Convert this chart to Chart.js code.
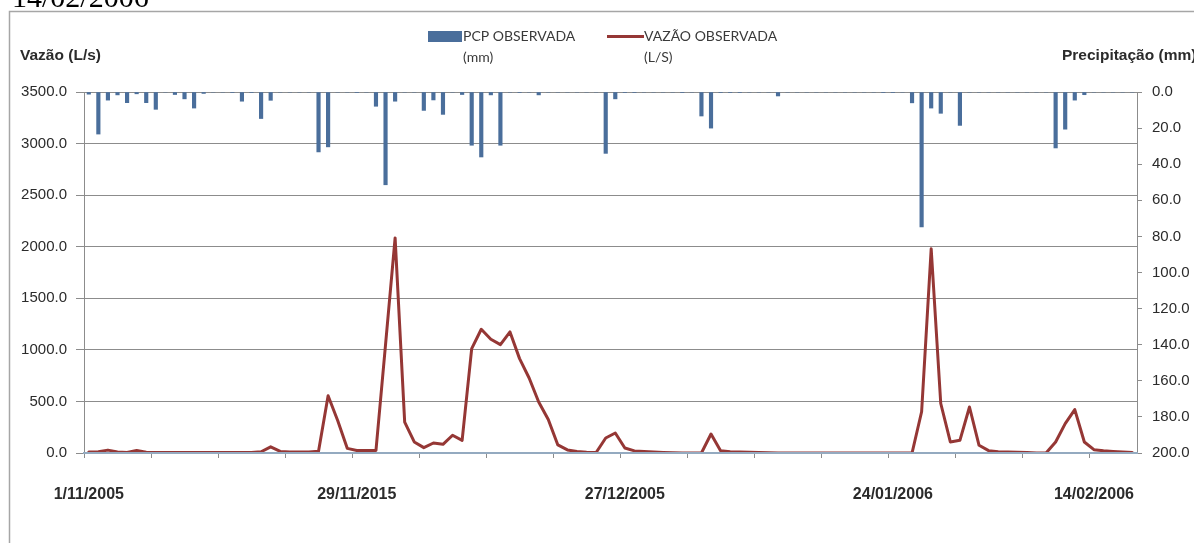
<!DOCTYPE html>
<html>
<head>
<meta charset="utf-8">
<script src="https://cdn.jsdelivr.net/npm/chart.js@4.4.1/dist/chart.umd.min.js"></script>
<style>
  html, body { margin: 0; padding: 0; background: #fff; }
  #wrap { position: relative; width: 1194px; height: 543px; overflow: hidden; background: #fff; }
  canvas { display: block; }
</style>
</head>
<body>
<div id="wrap"><canvas id="chart" width="1194" height="543"></canvas></div>
<script>
// Daily series, 1 Nov 2005 onwards
const firstDay = { year: 2005, month: 11, day: 1 };
const dayCount = 110;

// Observed discharge (L/s)
const flowObserved = [
  10, 12, 28, 10, 5, 25, 8, 5, 5, 5,
  5, 4, 4, 4, 4, 4, 5, 5, 12, 60,
  15, 10, 10, 10, 18, 555, 315, 45, 25, 25,
  25, 1050, 2085, 300, 107, 52, 97, 84, 172, 123,
  1012, 1200, 1103, 1051, 1174, 915, 727, 495, 324, 78,
  30, 15, 8, 5, 145, 194, 48, 20, 15, 10,
  6, 3, 0, 0, 0, 184, 23, 12, 10, 8,
  6, 3, 0, 0, 0, 0, 0, 0, 0, 0,
  0, 0, 0, 0, 0, 0, 0, 400, 1980, 480,
  107, 123, 446, 75, 23, 12, 10, 8, 5, 0,
  0, 107, 285, 421, 107, 32, 22, 15, 10, 5
];

// Observed precipitation (mm)
const rainObserved = [
  1.2, 23.3, 4.5, 1.6, 5.9, 1.0, 5.9, 9.6, 0, 1.4,
  3.8, 8.9, 0.8, 0, 0, 0.3, 5.1, 0.3, 14.7, 4.6,
  0, 0, 0, 0, 33.2, 30.4, 0, 0, 0.3, 0,
  7.9, 51.4, 5.1, 0, 0, 10.2, 4.4, 12.4, 0, 1.4,
  29.5, 36.0, 1.6, 29.5, 0, 0.3, 0, 1.6, 0, 0,
  0, 0, 0, 0, 34.0, 3.8, 0.3, 0.3, 0, 0,
  0, 0, 0.3, 0, 13.3, 20.0, 0.3, 0.3, 0.3, 0,
  0, 0, 2.2, 0, 0, 0, 0, 0, 0, 0,
  0, 0, 0, 0.3, 0.3, 0, 6.0, 74.7, 8.9, 11.8,
  0, 18.5, 0, 0, 0, 0, 0, 0, 0, 0,
  0, 31.0, 20.6, 4.5, 1.5, 0, 0, 0, 0, 0
];

// Labelled dates on the time axis
const dateTickIndex = [0, 28, 56, 84, 105];
const dateTickLabels = ['1/11/2005', '29/11/2015', '27/12/2005', '24/01/2006', '14/02/2006'];

// Axis ranges
const flowAxis = { min: 0, max: 3500, step: 500 };
const rainAxis = { min: 0, max: 200, step: 20 };

const categories = [];
for (let i = 0; i < dayCount; i++) {
  const d = new Date(firstDay.year, firstDay.month - 1, firstDay.day + i);
  categories.push(d.getDate() + '/' + String(d.getMonth() + 1).padStart(2, '0') + '/' + d.getFullYear());
}

const GRID = '#8c8c8c';
const TEXT = '#2b2b2b';

// Frame, axis titles and the two-line legend
const decor = {
  id: 'decor',
  beforeDraw(chart) {
    const c = chart.ctx;
    c.save();
    c.fillStyle = '#fff';
    c.fillRect(0, 0, chart.width, chart.height);
    c.strokeStyle = '#a6a6a6';
    c.lineWidth = 1.5;
    c.strokeRect(9.5, 11.5, 1400, 800);
    c.fillStyle = '#000';
    c.font = '30px "Liberation Serif"';
    c.textBaseline = 'alphabetic';
    c.textAlign = 'left';
    c.fillText('14/02/2006', 12, 7);
    c.restore();
  },
  afterDraw(chart) {
    const c = chart.ctx;
    c.save();
    c.textBaseline = 'middle';
    c.textAlign = 'left';
    c.fillStyle = TEXT;
    c.font = 'bold 15.5px "Liberation Sans"';
    c.fillText('Vazão (L/s)', 20, 56);
    c.fillText('Precipitação (mm)', 1062, 56);

    c.font = '14px Lato';
    c.fillStyle = '#4A6E9B';
    c.fillRect(428, 31, 34, 11);
    c.fillStyle = '#3a3a3a';
    c.fillText('PCP OBSERVADA', 463, 36);
    c.fillText('(mm)', 463, 57);

    c.strokeStyle = '#953735';
    c.lineWidth = 3;
    c.beginPath();
    c.moveTo(607, 36.5);
    c.lineTo(644, 36.5);
    c.stroke();
    c.fillText('VAZÃO OBSERVADA', 644, 36);
    c.fillText('(L/S)', 644, 57);
    c.restore();
  }
};

new Chart(document.getElementById('chart'), {
  data: {
    labels: categories,
    datasets: [
      {
        type: 'line',
        label: 'VAZÃO OBSERVADA (L/S)',
        data: flowObserved,
        yAxisID: 'y',
        borderColor: '#953735',
        borderWidth: 3,
        borderJoinStyle: 'round',
        borderCapStyle: 'round',
        pointRadius: 0,
        tension: 0,
        fill: false,
        order: 0
      },
      {
        type: 'bar',
        label: 'PCP OBSERVADA (mm)',
        data: rainObserved,
        yAxisID: 'y1',
        backgroundColor: '#4A6E9B',
        barThickness: 3.5,
        order: 1
      }
    ]
  },
  options: {
    responsive: false,
    animation: false,
    devicePixelRatio: 1,
    layout: { padding: { top: 92, left: 0, right: 0, bottom: 0 } },
    plugins: { legend: { display: false }, tooltip: { enabled: false } },
    scales: {
      x: {
        type: 'category',
        offset: true,
        grid: {
          offset: true,
          drawOnChartArea: false,
          drawTicks: true,
          tickLength: 5,
          lineWidth: 1,
          color: (ctx) => (ctx.index !== undefined && ctx.index % 7 === 0) ? GRID : 'rgba(0,0,0,0)'
        },
        border: { display: true, color: '#94aac0', width: 2, z: 1 },
        ticks: {
          autoSkip: false,
          maxRotation: 0,
          minRotation: 0,
          padding: 27,
          color: TEXT,
          font: { family: 'Liberation Sans', size: 16, weight: 'bold' },
          callback: (value, index) => {
            const k = dateTickIndex.indexOf(index);
            return k >= 0 ? dateTickLabels[k] : '';
          }
        },
        afterFit: (s) => { s.height = 90; }
      },
      y: {
        position: 'left',
        min: flowAxis.min,
        max: flowAxis.max,
        grid: { color: GRID, lineWidth: 1, tickLength: 8 },
        border: { color: GRID, width: 1 },
        ticks: {
          stepSize: flowAxis.step,
          padding: 9,
          color: TEXT,
          font: { family: 'Liberation Sans', size: 15 },
          callback: (v) => Number(v).toFixed(1)
        },
        afterFit: (s) => { s.width = 84; }
      },
      y1: {
        position: 'right',
        reverse: true,
        min: rainAxis.min,
        max: rainAxis.max,
        grid: { drawOnChartArea: false, color: GRID, lineWidth: 1, tickLength: 5 },
        border: { color: GRID, width: 1 },
        ticks: {
          stepSize: rainAxis.step,
          padding: 10,
          color: TEXT,
          font: { family: 'Liberation Sans', size: 15 },
          callback: (v) => Number(v).toFixed(1)
        },
        afterFit: (s) => { s.width = 57; }
      }
    }
  },
  plugins: [decor]
});
</script>
</body>
</html>
